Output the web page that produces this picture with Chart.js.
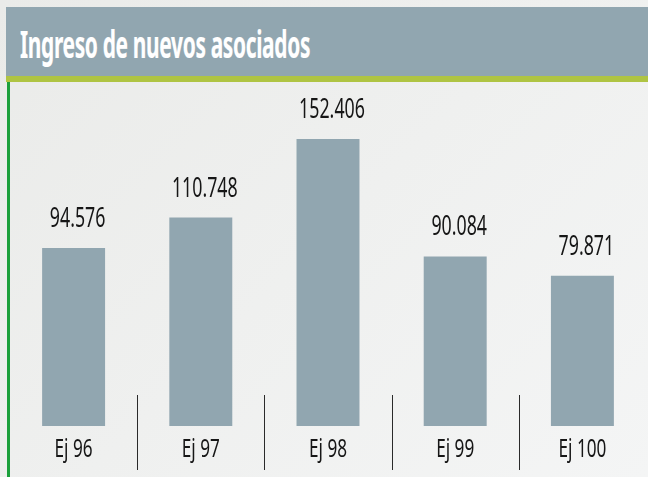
<!DOCTYPE html>
<html>
<head>
<meta charset="utf-8">
<script src="https://cdn.jsdelivr.net/npm/chart.js@4"></script>
<style>
  html, body { margin: 0; padding: 0; }
  body { width: 648px; height: 477px; position: relative; overflow: hidden;
         background: linear-gradient(135deg, #eaebe9 0%, #eff0ef 50%, #f4f5f5 100%); }
  #header { position: absolute; left: 6px; top: 7px; width: 642px; height: 69px; background: #91a6b0; }
  #stripe { position: absolute; left: 6px; top: 76px; width: 642px; height: 6px; background: #afc443; }
  #border { position: absolute; left: 7px; top: 82px; width: 3px; height: 395px; background: #1ca03c; }
  #title { position: absolute; left: 20px; top: 20px; color: #fff; font-family: "Noto Sans", sans-serif;
           font-weight: 700; font-size: 38px; line-height: 46px; white-space: nowrap;
           -webkit-text-stroke: 0.2px #fff;
           transform: scaleX(0.55); transform-origin: left top; letter-spacing: -0.6px; }
  #wrap { position: absolute; left: 0; top: 0; width: 648px; height: 477px; }
</style>
</head>
<body>
<div id="header"></div>
<div id="stripe"></div>
<div id="border"></div>
<div id="title">Ingreso de nuevos asociados</div>
<div id="wrap"><canvas id="c" width="648" height="477"></canvas></div>
<script>
const categories = ['Ej 96', 'Ej 97', 'Ej 98', 'Ej 99', 'Ej 100'];
const values = [94.576, 110.748, 152.406, 90.084, 79.871];
const valueLabels = ['94.576', '110.748', '152.406', '90.084', '79.871'];

function drawScaled(ctx, text, x, y, size, sx, color) {
  ctx.save();
  ctx.font = '400 ' + size + 'px "Noto Sans", sans-serif';
  ctx.fillStyle = color;
  ctx.textAlign = 'center';
  ctx.textBaseline = 'alphabetic';
  ctx.translate(x, y);
  ctx.scale(sx, 1);
  ctx.fillText(text, 0, 0);
  ctx.restore();
}

const labelsPlugin = {
  id: 'labelsPlugin',
  afterDatasetsDraw(chart) {
    const ctx = chart.ctx;
    const meta = chart.getDatasetMeta(0);
    const xs = chart.scales.x;
    meta.data.forEach((bar, i) => {
      drawScaled(ctx, valueLabels[i], bar.x + 4, bar.y - 21, 28, 0.635, '#161616');
      drawScaled(ctx, categories[i], bar.x, 457, 26, 0.66, '#161616');
    });
    ctx.save();
    ctx.strokeStyle = '#2a2a2a';
    ctx.lineWidth = 1;
    for (let i = 0; i < categories.length - 1; i++) {
      const x = Math.round((xs.getPixelForValue(i) + xs.getPixelForValue(i + 1)) / 2) + 0.5;
      ctx.beginPath();
      ctx.moveTo(x, 395);
      ctx.lineTo(x, 470);
      ctx.stroke();
    }
    ctx.restore();
  }
};

new Chart(document.getElementById('c'), {
  type: 'bar',
  data: {
    labels: categories,
    datasets: [{
      data: values,
      backgroundColor: '#91a6b0',
      borderWidth: 0,
      barPercentage: 0.495,
      categoryPercentage: 1
    }]
  },
  options: {
    responsive: false,
    animation: false,
    layout: { padding: { top: 106, bottom: 51, left: 10, right: 2 } },
    plugins: { legend: { display: false }, tooltip: { enabled: false } },
    scales: {
      x: { display: false },
      y: { display: false, min: 0, max: 170 }
    }
  },
  plugins: [labelsPlugin]
});
</script>
</body>
</html>
